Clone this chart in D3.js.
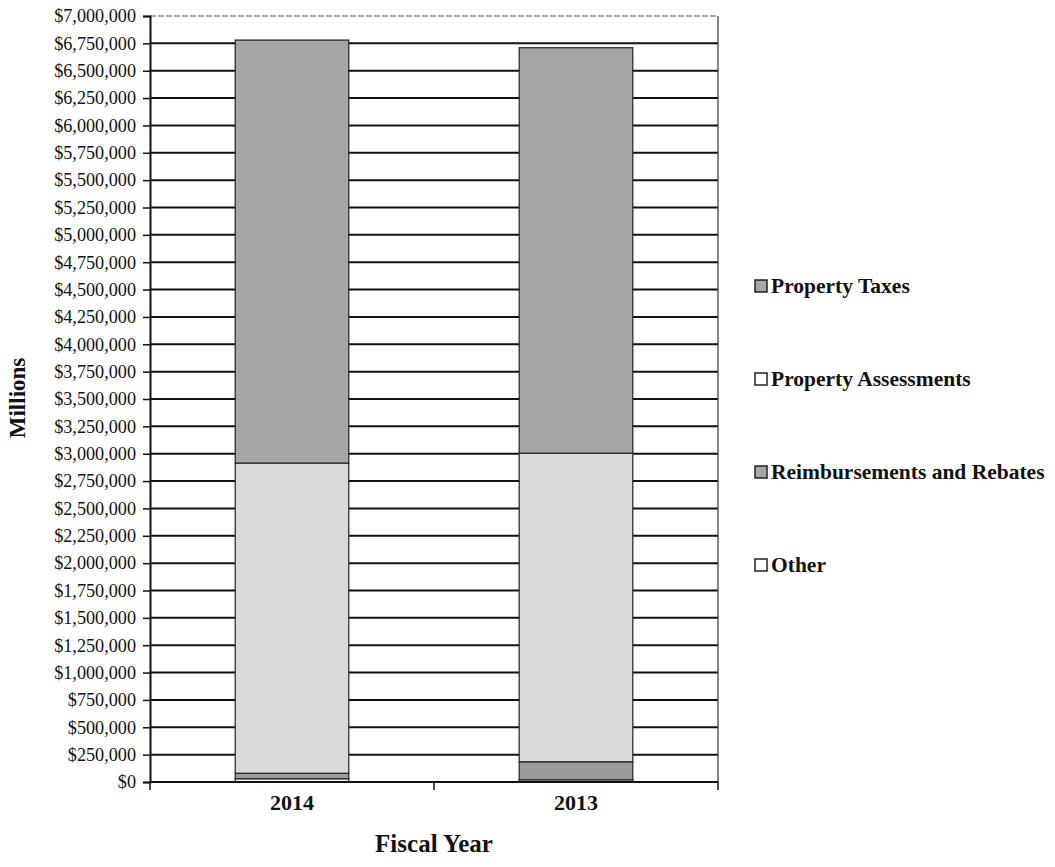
<!DOCTYPE html>
<html><head><meta charset="utf-8">
<script src="https://cdn.jsdelivr.net/npm/d3@7"></script>
<style>body{margin:0;background:#fff}</style>
</head><body>
<svg id="c" width="1055" height="867"></svg>
<script>
const years = ["2014", "2013"];
const seriesNames = ["Other", "Reimbursements and Rebates", "Property Assessments", "Property Taxes"];
const other = [30000, 20000];
const reimbursements = [50000, 165000];
const assessments = [2835000, 2820000];
const propertyTaxes = [3865000, 3705000];
const legendOrder = ["Property Taxes", "Property Assessments", "Reimbursements and Rebates", "Other"];
const fills = {"Property Taxes":"#a6a6a6","Property Assessments":"#dadada","Reimbursements and Rebates":"#9a9a9a","Other":"#ffffff"};
const legendFills = {"Property Taxes":"#a6a6a6","Property Assessments":"#ffffff","Reimbursements and Rebates":"#a6a6a6","Other":"#ffffff"};

const rows = years.map((y,i)=>({year:y,"Other":other[i],"Reimbursements and Rebates":reimbursements[i],"Property Assessments":assessments[i],"Property Taxes":propertyTaxes[i]}));
const stack = d3.stack().keys(seriesNames)(rows);

const svg = d3.select("#c");
const L=150,R=718,T=16,B=782;
const x = d3.scaleBand().domain(years).range([L,R]).paddingInner(0.6).paddingOuter(0.3);
const y = d3.scaleLinear().domain([0,7000000]).range([B,T]);
const ticks = d3.range(0,7000001,250000);
const font = "'Liberation Serif','Times New Roman',serif";

// gridlines
svg.append("g").selectAll("line").data(ticks.filter(t=>t>0)).join("line")
  .attr("x1",L).attr("x2",R).attr("y1",d=>y(d)).attr("y2",d=>y(d))
  .attr("stroke",d=>d===7000000?"#555":"#111")
  .attr("stroke-width",d=>d===7000000?1:2)
  .attr("stroke-dasharray",d=>d===7000000?"6,2":null);
// right border
svg.append("line").attr("x1",R).attr("x2",R).attr("y1",T).attr("y2",B).attr("stroke","#333").attr("stroke-width",1.2);

// bars
svg.append("g").selectAll("g").data(stack).join("g")
  .attr("fill",d=>fills[d.key])
  .selectAll("rect").data(d=>d).join("rect")
  .attr("x",d=>x(d.data.year)).attr("width",x.bandwidth())
  .attr("y",d=>y(d[1])).attr("height",d=>y(d[0])-y(d[1]))
  .attr("stroke","#222").attr("stroke-width",1.2);

// y axis
const ya = svg.append("g").attr("transform",`translate(${L},0)`)
  .call(d3.axisLeft(y).tickValues(ticks).tickSize(7).tickPadding(7).tickFormat(d=>"$"+d3.format(",")(d)));
ya.selectAll("text").attr("font-family",font).attr("font-size",18.2).attr("fill","#111");
ya.selectAll("line").attr("stroke","#111").attr("stroke-width",1.5);
ya.select(".domain").attr("stroke","#111").attr("stroke-width",2);

// x axis
const xa = svg.append("g").attr("transform",`translate(0,${B})`);
xa.append("line").attr("x1",L).attr("x2",R).attr("stroke","#111").attr("stroke-width",2);
const xt = d3.scalePoint().domain([0,1,2]).range([L,R]);
xa.selectAll("line.t").data([0,1,2]).join("line").attr("class","t")
  .attr("x1",d=>xt(d)).attr("x2",d=>xt(d)).attr("y1",0).attr("y2",8).attr("stroke","#111").attr("stroke-width",1.5);
xa.selectAll("text").data(years).join("text")
  .attr("x",d=>x(d)+x.bandwidth()/2).attr("y",28).attr("text-anchor","middle")
  .attr("font-family",font).attr("font-weight","bold").attr("font-size",22).attr("fill","#111").text(d=>d);

svg.append("text").attr("x",(L+R)/2).attr("y",852).attr("text-anchor","middle")
  .attr("font-family",font).attr("font-weight","bold").attr("font-size",25).attr("fill","#111").text("Fiscal Year");
svg.append("text").attr("transform","translate(25,398) rotate(-90)").attr("text-anchor","middle")
  .attr("font-family",font).attr("font-weight","bold").attr("font-size",23).attr("fill","#111").text("Millions");

// legend
const lg = svg.append("g").selectAll("g").data(legendOrder).join("g")
  .attr("transform",(d,i)=>`translate(755,${286+i*93})`);
lg.append("rect").attr("x",0).attr("y",-6).attr("width",12).attr("height",12)
  .attr("fill",d=>legendFills[d]).attr("stroke","#222").attr("stroke-width",1.5);
lg.append("text").attr("x",16).attr("y",7).attr("font-family",font).attr("font-weight","bold")
  .attr("font-size",21.5).attr("fill","#111").text(d=>d);
</script>
</body></html>
